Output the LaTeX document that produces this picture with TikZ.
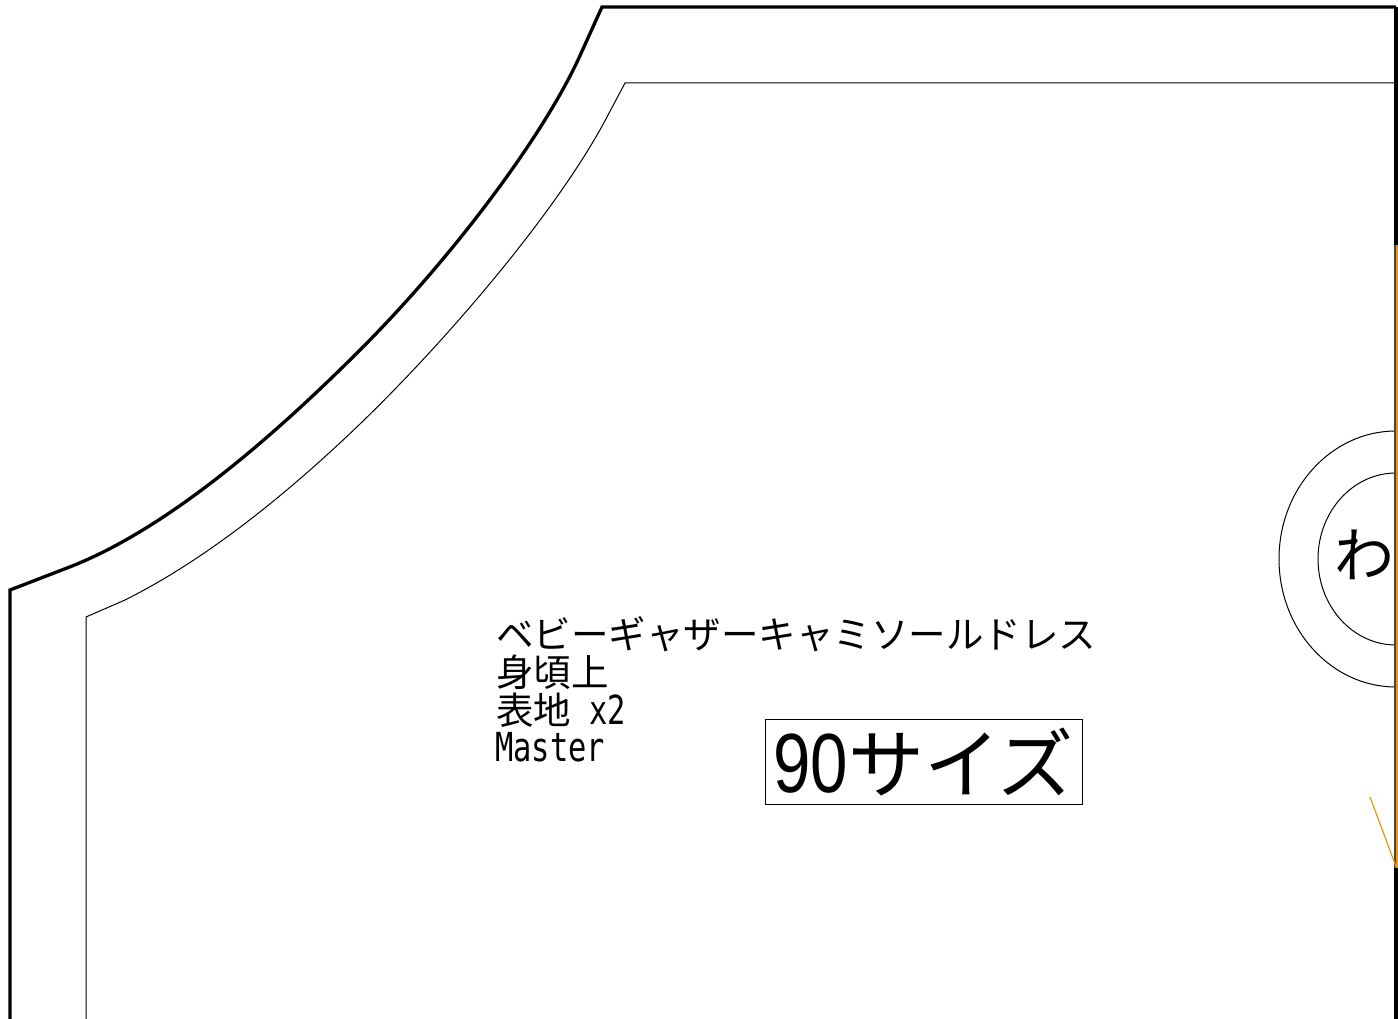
\documentclass[tikz,border=0pt]{standalone}
\usepackage{fontspec}
\setmainfont{Noto Sans CJK JP}
\newfontfamily\hwfont[FakeStretch=0.76]{DejaVu Sans Mono}
\newfontfamily\hwdigits[FakeStretch=0.8]{Liberation Sans}
\definecolor{foldorange}{RGB}{228,150,20}
\tikzset{
  cutline/.style={line width=3.3pt,line join=miter,black},
  sewline/.style={line width=1pt,black},
  foldline/.style={line width=1.2pt,draw=foldorange},
  label/.style={anchor=west,inner sep=0pt,font=\fontsize{37.5}{37.5}\selectfont},
  hw/.style={font=\fontsize{40}{40}\selectfont},
}
\begin{document}
\begin{tikzpicture}[x=1pt,y=-1pt]
\useasboundingbox (0,0) rectangle (1398,1019);
\fill[white] (0,0) rectangle (1398,1019);
\coordinate (a0) at (10,1019);
\coordinate (a1) at (10,590);
\coordinate (a2) at (602,7);
\coordinate (a3) at (1396,7);
\coordinate (a4) at (1396,1019);
\draw[cutline] (a0) -- (a1) -- (67,568) .. controls (167,530) and (275,435) .. (360,350) .. controls (450,260) and (540,141) .. (578,60) -- (a2) -- (a3);
\draw[line width=4pt] (a3) -- (a4);
\coordinate (b0) at (86,1019);
\coordinate (b1) at (86,617);
\coordinate (b2) at (625,83);
\coordinate (b3) at (1394,83);
\draw[sewline] (b0) -- (b1) -- (125,600) .. controls (205,560) and (285,496) .. (360,424) .. controls (446,341) and (557,212) .. (607,117) -- (b2) -- (b3);
\draw[sewline] (1396,431) arc[start angle=270,end angle=90,x radius=117,y radius=128];
\draw[sewline] (1396,473) arc[start angle=270,end angle=90,x radius=78,y radius=86];
\node[anchor=center,inner sep=0pt,font=\fontsize{60}{60}\selectfont] (wa) at (1364,555) {わ};
\coordinate (f0) at (1396.6,245);
\coordinate (f1) at (1396.6,868);
\coordinate (f2) at (1370,797);
\draw[line width=3pt,draw=black!72] (1395.5,245) -- (1395.5,868);
\draw[foldline,line width=1.8pt] (f0) -- (f1);
\draw[foldline] (f1) -- (f2);
\node[label] (t1) at (496,634) {ベビーギャザーキャミソールドレス};
\node[label] (t2) at (496,672) {身頃上};
\node[label] (t3) at (496,710) {表地{\hwfont\fontsize{40}{40}\selectfont\ x2}};
\node[label,hw] (t4) at (495,747) {\hwfont Master};
\node[draw,line width=1pt,anchor=center,inner sep=0pt,minimum width=317pt,minimum height=85pt,font=\fontsize{76}{76}\selectfont] (size) at (923.5,762) {{\hwdigits\fontsize{84}{84}\selectfont 90}サイズ};
\end{tikzpicture}
\end{document}
